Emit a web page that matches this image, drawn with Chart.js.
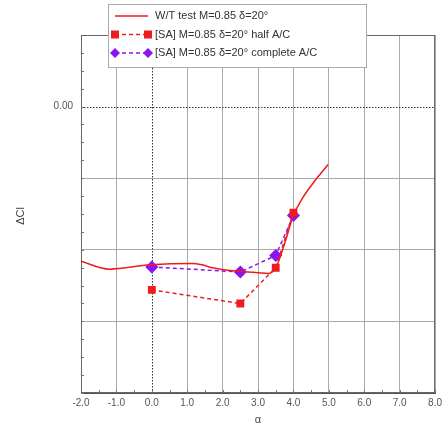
<!DOCTYPE html>
<html>
<head>
<meta charset="utf-8">
<script src="https://cdn.jsdelivr.net/npm/chart.js@4.4.1/dist/chart.umd.min.js"></script>
<style>
html,body{margin:0;padding:0;background:#fff;}
#wrap{width:446px;height:428px;position:relative;}
</style>
</head>
<body>
<div id="wrap"><canvas id="c" width="446" height="428"></canvas></div>
<script>
// ---- data ----
const wtAlpha = [-2.0, -1.2, -0.05, 1.15, 1.42, 1.7, 2.45, 3.0, 3.3, 3.5, 3.76, 3.99, 4.23, 4.6, 4.98];
const wtDCl   = [-0.216, -0.227, -0.221, -0.219, -0.221, -0.225, -0.230, -0.232, -0.233, -0.225, -0.190, -0.153, -0.130, -0.104, -0.081];
const saAlpha = [0.0, 2.5, 3.5, 4.0];
const halfDCl = [-0.256, -0.275, -0.225, -0.148];
const compDCl = [-0.224, -0.231, -0.208, -0.152];
const seriesLabels = ['W/T test M=0.85 \u03b4=20\u00b0', '[SA] M=0.85 \u03b4=20\u00b0 half A/C', '[SA] M=0.85 \u03b4=20\u00b0 complete A/C'];
const xTitle = '\u03b1';
const yTitle = '\u0394Cl';

const RED = 'rgb(238,28,28)';
const PURPLE = 'rgb(140,20,240)';
const FONT = '"Liberation Sans", Arial, sans-serif';

const pts = (xs, ys) => xs.map((x, i) => ({x: x, y: ys[i]}));

const decor = {
  id: 'decor',
  beforeDatasetsDraw(chart) {
    const ctx = chart.ctx, xs = chart.scales.x, ys = chart.scales.y, a = chart.chartArea;
    ctx.save();
    // zero lines dotted
    ctx.strokeStyle = '#333';
    ctx.lineWidth = 1;
    ctx.setLineDash([1.5, 1.5]);
    const y0 = Math.round(ys.getPixelForValue(0)) + 0.5;
    ctx.beginPath(); ctx.moveTo(a.left, y0); ctx.lineTo(a.right, y0); ctx.stroke();
    const x0 = Math.round(xs.getPixelForValue(0)) + 0.5;
    ctx.beginPath(); ctx.moveTo(x0, a.top); ctx.lineTo(x0, a.bottom); ctx.stroke();
    ctx.setLineDash([]);
    // minor ticks
    ctx.strokeStyle = '#777';
    for (let v = -0.4; v <= 0.1001; v += 0.025) {
      const p = Math.round(ys.getPixelForValue(v)) + 0.5;
      ctx.beginPath(); ctx.moveTo(a.left, p); ctx.lineTo(a.left + 3, p); ctx.stroke();
    }
    for (let v = -2; v <= 8.001; v += 0.5) {
      const p = Math.round(xs.getPixelForValue(v)) + 0.5;
      ctx.beginPath(); ctx.moveTo(p, a.bottom); ctx.lineTo(p, a.bottom - 3); ctx.stroke();
    }
    // frame
    ctx.strokeStyle = '#666';
    ctx.strokeRect(a.left + 0.5, a.top + 0.5, a.right - a.left - 1, a.bottom - a.top - 1);
    ctx.restore();
  },
  afterDraw(chart) {
    const ctx = chart.ctx;
    ctx.save();
    // axis titles
    ctx.fillStyle = '#444';
    ctx.font = '11px ' + FONT;
    ctx.textAlign = 'center'; ctx.textBaseline = 'middle';
    ctx.fillText(xTitle, 258, 420);
    ctx.save();
    ctx.translate(21, 216); ctx.rotate(-Math.PI / 2);
    ctx.fillText(yTitle, 0, 0);
    ctx.restore();
    // legend box
    const bx = 108, by = 4, bw = 258, bh = 63;
    ctx.fillStyle = '#fff';
    ctx.fillRect(bx, by, bw, bh);
    ctx.strokeStyle = '#aaa'; ctx.lineWidth = 1;
    ctx.strokeRect(bx + 0.5, by + 0.5, bw, bh);
    const rows = [16, 34.5, 53];
    const ds = chart.data.datasets;
    ctx.textAlign = 'left';
    ctx.font = '11px ' + FONT;
    rows.forEach((ry, i) => {
      const d = ds[i];
      ctx.strokeStyle = d.borderColor;
      ctx.lineWidth = 1.5;
      ctx.setLineDash(d.borderDash || []);
      ctx.beginPath(); ctx.moveTo(115, ry); ctx.lineTo(148, ry); ctx.stroke();
      ctx.setLineDash([]);
      if (d.pointRadius > 0) {
        ctx.fillStyle = d.pointBackgroundColor;
        [115, 148].forEach(px => {
          if (d.pointStyle === 'rectRot') {
            const r = 5;
            ctx.beginPath(); ctx.moveTo(px, ry - r); ctx.lineTo(px + r, ry); ctx.lineTo(px, ry + r); ctx.lineTo(px - r, ry); ctx.closePath(); ctx.fill();
          } else {
            ctx.fillRect(px - 4, ry - 4, 8, 8);
          }
        });
      }
      ctx.fillStyle = '#333';
      ctx.fillText(d.label, 155, ry);
    });
    ctx.restore();
  }
};

new Chart(document.getElementById('c'), {
  type: 'line',
  data: {
    datasets: [
      { label: seriesLabels[0], data: pts(wtAlpha, wtDCl), borderColor: RED, borderWidth: 1.5,
        pointRadius: 0, cubicInterpolationMode: 'monotone', fill: false },
      { label: seriesLabels[1], data: pts(saAlpha, halfDCl), borderColor: RED, borderWidth: 1.5, borderDash: [4, 3],
        pointStyle: 'rect', pointRadius: 4.5, pointBackgroundColor: RED, pointBorderColor: RED, tension: 0, fill: false },
      { label: seriesLabels[2], data: pts(saAlpha, compDCl), borderColor: PURPLE, borderWidth: 1.5, borderDash: [4, 3],
        pointStyle: 'rectRot', pointRadius: 5.5, pointBackgroundColor: PURPLE, pointBorderColor: PURPLE, tension: 0, fill: false }
    ]
  },
  options: {
    responsive: false,
    animation: false,
    devicePixelRatio: 1,
    layout: { padding: { top: 35, right: 8, left: 0, bottom: 0 } },
    plugins: { legend: { display: false }, tooltip: { enabled: false } },
    scales: {
      x: {
        type: 'linear', min: -2, max: 8,
        ticks: { stepSize: 1, color: '#555', font: { family: FONT, size: 10 }, padding: 4,
          callback: v => v.toFixed(1) },
        grid: { color: ctx => (ctx.tick && ctx.tick.value === 0) ? 'rgba(0,0,0,0)' : '#aaa', lineWidth: 1, tickLength: 0 },
        border: { color: '#555' },
        afterFit: s => { s.height = 35; }
      },
      y: {
        type: 'linear', min: -0.4, max: 0.1,
        ticks: { stepSize: 0.1, color: '#555', font: { family: FONT, size: 10 }, padding: 8,
          callback: v => Math.abs(v) < 1e-9 ? '0.00' : '' },
        grid: { color: ctx => (ctx.tick && Math.abs(ctx.tick.value) < 1e-9) ? 'rgba(0,0,0,0)' : '#aaa', lineWidth: 1, tickLength: 0 },
        border: { color: '#555' },
        afterFit: s => { s.width = 81; }
      }
    }
  },
  plugins: [decor]
});
</script>
</body>
</html>
